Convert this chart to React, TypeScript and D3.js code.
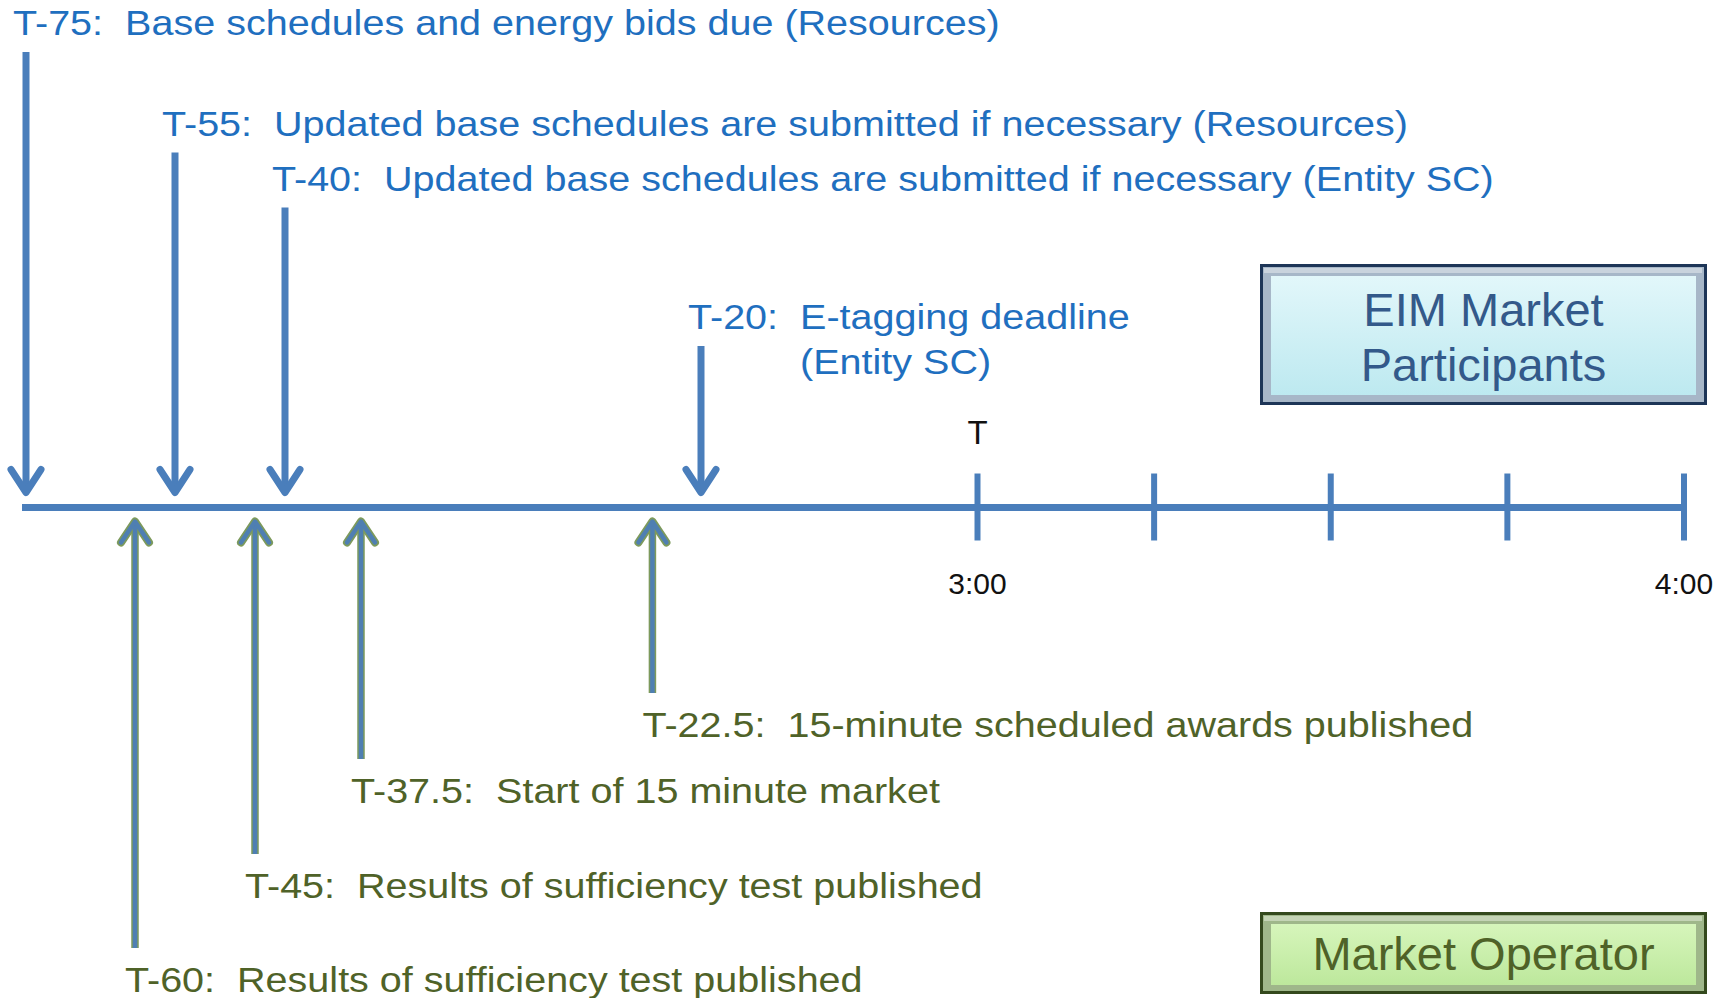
import React from "react";
import * as d3 from "d3";

// minutes relative to T (3:00)
const participantTimes = [-75, -55, -40, -20];
const participantLabels = [
  ["T-75:  Base schedules and energy bids due (Resources)"],
  ["T-55:  Updated base schedules are submitted if necessary (Resources)"],
  ["T-40:  Updated base schedules are submitted if necessary (Entity SC)"],
  ["T-20:  E-tagging deadline", "(Entity SC)"],
];
const operatorTimes = [-60, -45, -37.5, -22.5];
const operatorLabels = [
  "T-60:  Results of sufficiency test published",
  "T-45:  Results of sufficiency test published",
  "T-37.5:  Start of 15 minute market",
  "T-22.5:  15-minute scheduled awards published",
];
const tickMinutes = [0, 15, 30, 45, 60];
const tickLabels = ["3:00", "", "", "", "4:00"];
const boxLabels = [["EIM Market", "Participants"], ["Market Operator"]];

// the picture is not drawn to scale, so the time axis is piecewise
const timeBreaks = [-75, -60, -45, -40, -37.5, -20, 0, 60];
const breakPx = [26, 135, 255, 285, 361, 701, 977.5, 1684];

const FONT = "'Liberation Sans', Arial, sans-serif";
const BLUE_TEXT = "#1f6fbf";
const GREEN_TEXT = "#4f6228";
const LINE_BLUE = "#4a7ebb";

let App = () => {
  const x = d3.scaleLinear().domain(timeBreaks).range(breakPx);
  const lineY = 507.5;
  const stretch = 1.13;

  // layout rows (baselines)
  const topRows = [35, 135.5, 190.5, 329];
  const bottomRows = [992, 898, 803, 737];

  const chevron = (cx: number, tip: number, dir: number, hw: number, hh: number) =>
    d3.line()([
      [cx - hw, tip - dir * hh],
      [cx, tip],
      [cx + hw, tip - dir * hh],
    ]) as string;

  return (
    <div style={{ position: "fixed", left: 0, top: 0 }}>
      <svg width={1726} height={998} style={{ display: "block", background: "white" }}>
        <defs>
          <linearGradient id="cyanFill" x1="0" y1="0" x2="0" y2="1">
            <stop offset="0" stopColor="#e2f7fa" />
            <stop offset="1" stopColor="#bde9f0" />
          </linearGradient>
          <linearGradient id="greenFill" x1="0" y1="0" x2="0" y2="1">
            <stop offset="0" stopColor="#d6f5bb" />
            <stop offset="1" stopColor="#bde89c" />
          </linearGradient>
        </defs>

        {/* main time line */}
        <line x1={22} x2={x(60)} y1={lineY} y2={lineY} stroke={LINE_BLUE} strokeWidth={7} />
        {tickMinutes.map((m, i) => (
          <g key={"t" + i}>
            <line x1={x(m)} x2={x(m)} y1={lineY - 34} y2={lineY + 33} stroke={LINE_BLUE} strokeWidth={6} />
            <text x={x(m)} y={594} textAnchor="middle" fontFamily={FONT} fontSize={30} fill="#111">
              {tickLabels[i]}
            </text>
          </g>
        ))}
        <text x={x(0)} y={444} textAnchor="middle" fontFamily={FONT} fontSize={33} fill="#111">
          T
        </text>

        {/* market participant deadlines (down arrows) */}
        {participantTimes.map((t, i) => {
          const cx = x(t);
          const base = topRows[i];
          const tip = lineY - 15;
          const lines = participantLabels[i];
          return (
            <g key={"p" + i}>
              <line x1={cx} x2={cx} y1={base + 17} y2={tip - 2} stroke={LINE_BLUE} strokeWidth={7} />
              <path
                d={chevron(cx, tip, 1, 15, 23)}
                fill="none"
                stroke={LINE_BLUE}
                strokeWidth={7}
                strokeLinejoin="round"
                strokeLinecap="round"
              />
              <text
                transform={`translate(${cx - 13},${base}) scale(${stretch},1)`}
                fontFamily={FONT}
                fontSize={35}
                fill={BLUE_TEXT}
                style={{ whiteSpace: "pre" }}
              >
                {lines.map((s, j) => (
                  <tspan key={j} x={0} y={j * 45}>
                    {j > 0 ? <tspan visibility="hidden">{lines[0].split("  ")[0] + "  "}</tspan> : null}
                    {s}
                  </tspan>
                ))}
              </text>
            </g>
          );
        })}

        {/* market operator events (up arrows) */}
        {operatorTimes.map((t, i) => {
          const cx = x(t);
          const base = bottomRows[i];
          const tip = lineY + 14;
          const bottom = base - 44;
          return (
            <g key={"o" + i}>
              <line x1={cx} x2={cx} y1={tip + 2} y2={bottom} stroke="#7d9a5c" strokeWidth={7.5} />
              <path
                d={chevron(cx, tip, -1, 14, 21)}
                fill="none"
                stroke="#7d9a5c"
                strokeWidth={8}
                strokeLinejoin="round"
                strokeLinecap="round"
              />
              <line x1={cx} x2={cx} y1={tip + 2} y2={bottom} stroke="#4f7fb2" strokeWidth={4.5} />
              <path
                d={chevron(cx, tip, -1, 14, 21)}
                fill="none"
                stroke="#4f7fb2"
                strokeWidth={4.5}
                strokeLinejoin="round"
                strokeLinecap="round"
              />
              <text
                transform={`translate(${cx - 10},${base}) scale(${stretch},1)`}
                fontFamily={FONT}
                fontSize={35}
                fill={GREEN_TEXT}
                style={{ whiteSpace: "pre" }}
              >
                {operatorLabels[i]}
              </text>
            </g>
          );
        })}

        {/* legend boxes */}
        <g>
          <rect x={1260} y={264} width={447} height={141} fill="#1d3557" />
          <rect x={1263} y={267} width={441} height={135} fill="#a7b7c8" />
          <rect x={1264} y={268} width={438} height={5} fill="#c9d3dd" />
          <rect x={1271} y={276} width={425} height={119} fill="url(#cyanFill)" />
          {boxLabels[0].map((s, j) => (
            <text key={j} x={1483.5} y={326 + j * 55} textAnchor="middle" fontFamily={FONT} fontSize={47} fill="#33598a">
              {s}
            </text>
          ))}
        </g>
        <g>
          <rect x={1260} y={912} width={447} height={82} fill="#34491d" />
          <rect x={1263} y={915} width={441} height={76} fill="#9fb78a" />
          <rect x={1264} y={916} width={438} height={5} fill="#c4d4b5" />
          <rect x={1271} y={924} width={425} height={61} fill="url(#greenFill)" />
          <text x={1483.5} y={970} textAnchor="middle" fontFamily={FONT} fontSize={47} fill={GREEN_TEXT}>
            {boxLabels[1][0]}
          </text>
        </g>
      </svg>
    </div>
  );
};

export default App;
